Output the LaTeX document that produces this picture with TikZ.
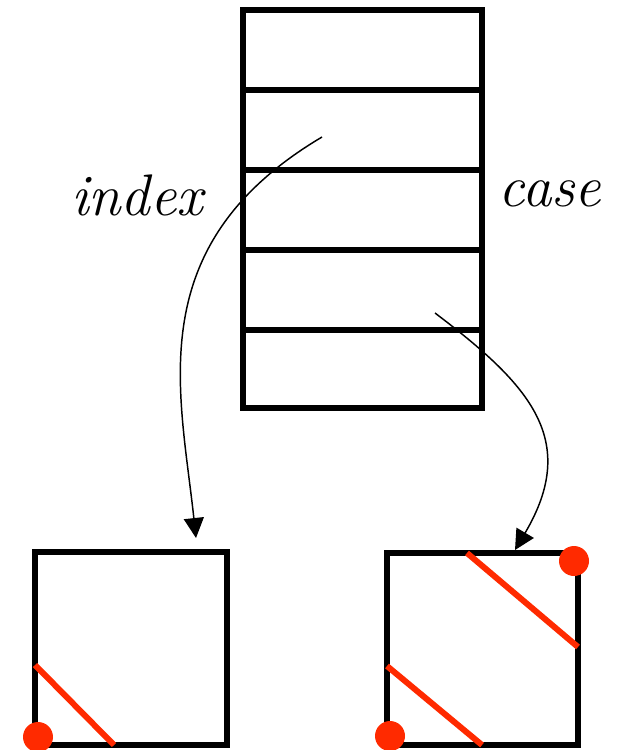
\documentclass[tikz,border=0pt]{standalone}
\usetikzlibrary{arrows.meta}
\definecolor{hred}{HTML}{FF2A00}
\begin{document}
\begin{tikzpicture}[x=0.75pt,y=-0.75pt,
  boxline/.style={line width=3.8pt,line join=miter},
  redline/.style={hred,line width=4.5pt},
  reddot/.style={fill=hred,draw=none},
  link/.style={line width=1.1pt,-{Triangle[length=15pt,width=15pt]}},
  lbl/.style={font=\fontsize{44}{44}\selectfont\itshape,anchor=base,inner sep=0pt}]
\useasboundingbox (0,0) rectangle (624,750);
% table
\draw[boxline] (243,10) rectangle (482,408);
\foreach \y in {90,170,250,330} \draw[boxline] (243,\y) -- (482,\y);
\coordinate (s1) at (322,137);
\coordinate (s2) at (435,313);
% labels
\node[lbl] (idx) at (137,215) {index};
\node[lbl] (cas) at (550,206) {case};
% arrow targets
\coordinate (t1) at (196,538);
\coordinate (t2) at (515,550);
% bottom boxes
\draw[boxline] (35,552) rectangle (227,745);
\draw[redline] (35,665) -- (114,745);
\fill[reddot] (38,737) circle[radius=15];
\draw[boxline] (387,553) rectangle (578,745);
\draw[redline] (467,553) -- (578,647);
\draw[redline] (387,666) -- (482,745);
\fill[reddot] (574,561) circle[radius=15];
\fill[reddot] (390,736) circle[radius=15];
% connectors
\draw[link] (s1) .. controls (140,245) and (180,390) .. (t1);
\draw[link] (s2) .. controls (530,385) and (580,440) .. (t2);
\end{tikzpicture}
\end{document}
